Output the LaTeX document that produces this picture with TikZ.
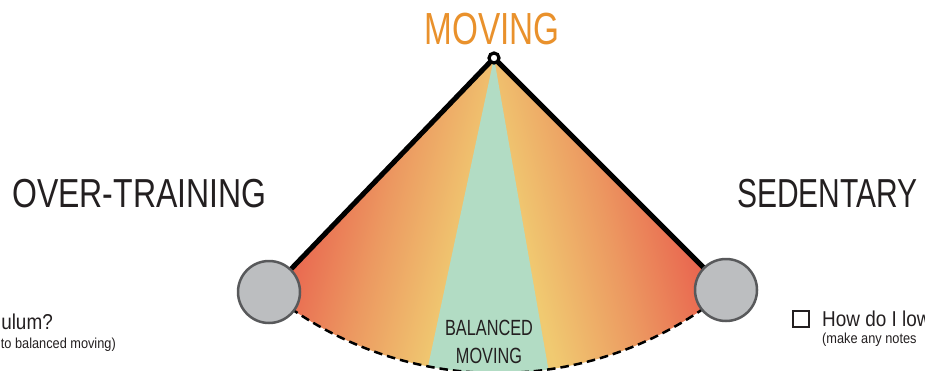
\documentclass[tikz,border=0pt]{standalone}
\usepackage{fontspec}
\setmainfont{Liberation Sans}
\newfontfamily\condA[FakeStretch=0.74]{Liberation Sans}
\newfontfamily\condC[FakeStretch=0.79]{Liberation Sans}
\newfontfamily\condB[FakeStretch=0.88]{Liberation Sans}
\definecolor{fanred}{HTML}{E9654F}
\definecolor{fanorange}{HTML}{EC9961}
\definecolor{fanyellow}{HTML}{F0CA71}
\definecolor{fangreen}{HTML}{B2DCC4}
\definecolor{ballfill}{HTML}{BCBEC0}
\definecolor{ballline}{HTML}{58595B}
\definecolor{titlecol}{HTML}{231F20}
\definecolor{movingorange}{HTML}{E9912C}
\pgfdeclarehorizontalshading{fanleft}{100bp}{color(0bp)=(fanred); color(30.4bp)=(fanred); color(47.8bp)=(fanorange); color(66.5bp)=(fanyellow); color(100bp)=(fanyellow)}
\pgfdeclarehorizontalshading{fanright}{100bp}{color(0bp)=(fanyellow); color(33.5bp)=(fanyellow); color(52.2bp)=(fanorange); color(69.6bp)=(fanred); color(100bp)=(fanred)}
\begin{document}
\begin{tikzpicture}[x=1pt,y=1pt,
  heavy/.style={line width=5pt, draw=black, line cap=round},
  dasharc/.style={line width=2.5pt, draw=black, dash pattern=on 8.5pt off 5pt},
  ball/.style={circle, minimum size=62pt, inner sep=0pt, fill=ballfill, draw=ballline, line width=2.5pt},
  title/.style={inner sep=0pt, anchor=base west, text=titlecol, font=\condA\fontsize{40.5}{40.5}\selectfont},
  balanced/.style={inner sep=0pt, anchor=base, text=titlecol, font=\condA\fontsize{22}{22}\selectfont},
  bigsmall/.style={inner sep=0pt, text=titlecol, font=\condB\fontsize{21.5}{21.5}\selectfont},
  tinysmall/.style={inner sep=0pt, text=titlecol, font=\condB\fontsize{14.5}{14.5}\selectfont}]
\useasboundingbox (0,0) rectangle (925,370);
\coordinate (P) at (494,312);
\coordinate (LB) at (269,78);
\coordinate (RB) at (726,80);
% fan fill
\begin{scope}
  \clip (P) -- (LB) arc[start angle=230.9, end angle=309.4, radius=362] -- cycle;
  \begin{scope}[transform canvas={rotate around={-15:(P)}}]
    \shade[shading=fanleft] (324,-40) rectangle (554,334);
  \end{scope}
  \begin{scope}
    \clip (494,-30) rectangle (760,330);
    \begin{scope}[transform canvas={rotate around={15:(P)}}]
      \shade[shading=fanright] (434,-40) rectangle (664,334);
    \end{scope}
  \end{scope}
  \fill[fangreen] (P) -- (423,-20) -- (552,-20) -- cycle;
\end{scope}
% outline
\draw[dasharc] (LB) arc[start angle=230.9, end angle=309.4, radius=362];
\draw[heavy] (P) -- (LB);
\draw[heavy] (P) -- (RB);
\node[ball] (lball) at (LB) {};
\node[ball] (rball) at (RB) {};
\node[circle, fill=white, draw=black, line width=3.2pt, minimum size=10pt, inner sep=0pt] (pivot) at (P) {};
% texts
\node[inner sep=0pt, anchor=base, text=movingorange, font=\condA\fontsize{45}{45}\selectfont] (moving) at (492,325) {MOVING};
\node[title, font=\condC\fontsize{40.5}{40.5}\selectfont] (over) at (12,163) {OVER-TRAINING};
\node[title] (sed) at (737,163) {SEDENTARY};
\node[balanced] (bal1) at (489,35) {BALANCED};
\node[balanced] (bal2) at (489,7) {MOVING};
\node[bigsmall, anchor=base east] (lq) at (53,41) {ulum?};
\node[tinysmall, anchor=base east] (lnote) at (116,22) {to balanced moving)};
\node[draw=titlecol, line width=1.3pt, minimum size=16pt, inner sep=0pt] (chk) at (801,51) {};
\node[bigsmall, anchor=base west] (rq) at (822,44) {How do I low};
\node[tinysmall, anchor=base west] (rnote) at (822,27) {(make any notes};
\end{tikzpicture}
\end{document}
